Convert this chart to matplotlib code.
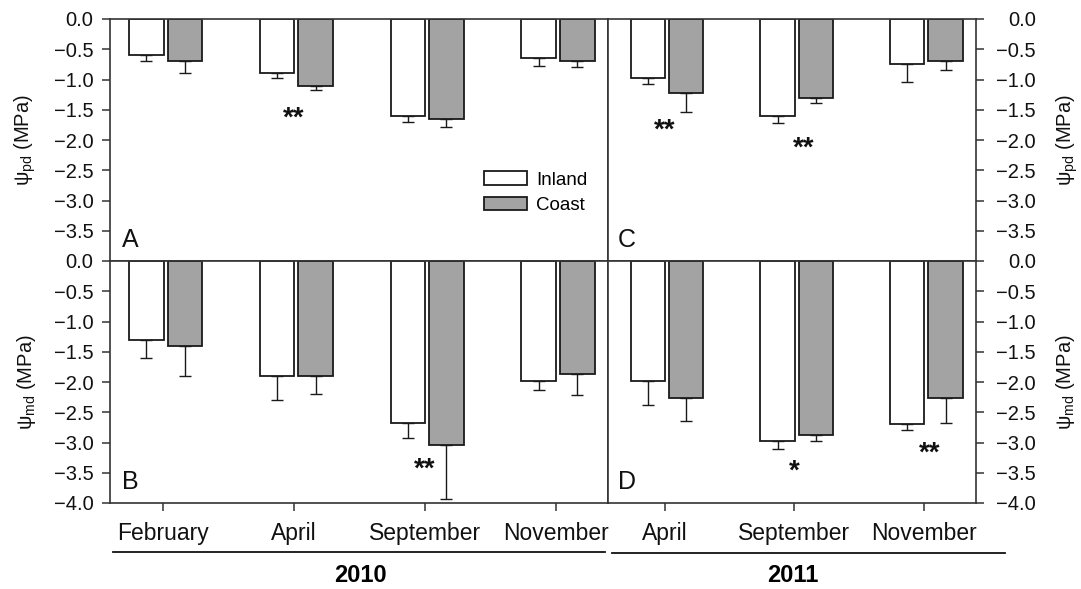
import matplotlib
matplotlib.use("Agg")
import matplotlib.pyplot as plt
import numpy as np
from matplotlib.lines import Line2D
from matplotlib.ticker import FuncFormatter

plt.rcParams['font.family'] = ['Liberation Sans', 'DejaVu Sans']
plt.rcParams['mathtext.fontset'] = 'custom'
plt.rcParams['mathtext.rm'] = 'Liberation Sans'
plt.rcParams['mathtext.it'] = 'Liberation Sans:italic'

months_2010 = ["February", "April", "September", "November"]
months_2011 = ["April", "September", "November"]

# predawn water potential (MPa), 2010 / 2011
pd_inland_2010 = [-0.60, -0.90, -1.60, -0.65]
pd_inland_2010_err = [0.09, 0.07, 0.10, 0.13]
pd_coast_2010 = [-0.70, -1.10, -1.65, -0.69]
pd_coast_2010_err = [0.20, 0.07, 0.13, 0.11]

pd_inland_2011 = [-0.97, -1.60, -0.75]
pd_inland_2011_err = [0.10, 0.12, 0.29]
pd_coast_2011 = [-1.22, -1.30, -0.69]
pd_coast_2011_err = [0.32, 0.09, 0.15]

# midday water potential (MPa)
md_inland_2010 = [-1.30, -1.90, -2.68, -1.99]
md_inland_2010_err = [0.30, 0.39, 0.24, 0.15]
md_coast_2010 = [-1.40, -1.90, -3.04, -1.87]
md_coast_2010_err = [0.50, 0.30, 0.89, 0.35]

md_inland_2011 = [-1.98, -2.98, -2.69]
md_inland_2011_err = [0.40, 0.13, 0.10]
md_coast_2011 = [-2.27, -2.87, -2.27]
md_coast_2011_err = [0.37, 0.11, 0.40]

# significance marks: (month index, y level, label)
stars_a = [(1, -1.55, "**")]
stars_b = [(2, -3.36, "**")]
stars_c = [(0, -1.75, "**"), (1.07, -2.05, "**")]
stars_d = [(1, -3.39, "*"), (2.04, -3.09, "**")]

W, H = 1081, 589
fig = plt.figure(figsize=(W / 100, H / 100), dpi=100)

def px_axes(x0, y0, x1, y1):
    return fig.add_axes([x0 / W, 1 - y1 / H, (x1 - x0) / W, (y1 - y0) / H])

ax_a = px_axes(110, 19, 608, 261)
ax_b = px_axes(110, 261, 608, 503)
ax_c = px_axes(608, 19, 976, 261)
ax_d = px_axes(608, 261, 976, 503)

spine_col = '#333333'
coast_col = '#a3a3a3'
bw = 0.265
off_in, off_co = -0.13, 0.165

minus_fmt = FuncFormatter(lambda v, pos: ('%.1f' % v).replace('-', '\u2212') if abs(v) > 1e-9 else '0.0')


def draw_panel(ax, inland, inland_err, coast, coast_err, stars, letter, lx):
    x = np.arange(len(inland))
    ax.bar(x + off_in, inland, width=bw, color='white', edgecolor='#1a1a1a',
           linewidth=1.3, label='Inland', zorder=2)
    ax.bar(x + off_co, coast, width=bw, color=coast_col, edgecolor='#1a1a1a',
           linewidth=1.3, label='Coast', zorder=2)
    zeros = np.zeros(len(inland))
    ax.errorbar(x + off_in, inland, yerr=[inland_err, zeros], fmt='none',
                ecolor='#1a1a1a', elinewidth=1.0, capsize=4.5, capthick=1.0, zorder=1)
    ax.errorbar(x + off_co, coast, yerr=[coast_err, zeros], fmt='none',
                ecolor='#1a1a1a', elinewidth=1.0, capsize=4.5, capthick=1.0, zorder=1)
    for xi, yi, s in stars:
        ax.text(xi, yi - 0.21, s, ha='center', va='baseline', fontsize=20,
                fontweight='bold', color='#111111')
    ax.text(lx, 0.037, letter, transform=ax.transAxes, fontsize=18,
            ha='left', va='bottom', color='#111111')
    ax.set_ylim(-4.0, 0.0)
    for sp in ax.spines.values():
        sp.set_color(spine_col)
        sp.set_linewidth(1.2)
    ax.tick_params(axis='both', colors=spine_col, labelcolor='#111111',
                   labelsize=14.5, length=6, width=1.1)
    ax.tick_params(axis='y', pad=6)


draw_panel(ax_a, pd_inland_2010, pd_inland_2010_err, pd_coast_2010, pd_coast_2010_err, stars_a, 'A', 0.024)
draw_panel(ax_b, md_inland_2010, md_inland_2010_err, md_coast_2010, md_coast_2010_err, stars_b, 'B', 0.024)
draw_panel(ax_c, pd_inland_2011, pd_inland_2011_err, pd_coast_2011, pd_coast_2011_err, stars_c, 'C', 0.027)
draw_panel(ax_d, md_inland_2011, md_inland_2011_err, md_coast_2011, md_coast_2011_err, stars_d, 'D', 0.027)

for ax in (ax_a, ax_b):
    ax.set_xlim(-0.408, 3.40)
for ax in (ax_c, ax_d):
    ax.set_xlim(-0.438, 2.40)

top_ticks = np.arange(0, -3.51, -0.5)
bot_ticks = np.arange(0, -4.01, -0.5)
for ax in (ax_a, ax_c):
    ax.set_yticks(top_ticks)
    ax.set_xticks([])
for ax in (ax_b, ax_d):
    ax.set_yticks(bot_ticks)
for ax in (ax_a, ax_b, ax_c, ax_d):
    ax.yaxis.set_major_formatter(minus_fmt)

ax_b.set_xticks(np.arange(len(months_2010)))
ax_b.set_xticklabels(months_2010, fontsize=16.5)
ax_d.set_xticks(np.arange(len(months_2011)))
ax_d.set_xticklabels(months_2011, fontsize=16.5)
for ax in (ax_b, ax_d):
    ax.tick_params(axis='x', pad=8)

# right-hand panels: labels on the right, right-aligned like the original
for ax in (ax_c, ax_d):
    ax.yaxis.tick_right()
    ax.yaxis.set_label_position('right')
    ax.tick_params(axis='y', pad=37)
    plt.setp(ax.get_yticklabels(), ha='right')

pd_label = '\u03c8$_{\\rm pd}$ (MPa)'
md_label = '\u03c8$_{\\rm md}$ (MPa)'
ax_a.set_ylabel(pd_label, fontsize=14.5, color='#111111')
ax_b.set_ylabel(md_label, fontsize=14.5, color='#111111')
ax_c.set_ylabel(pd_label, fontsize=14.5, color='#111111', rotation=90)
ax_d.set_ylabel(md_label, fontsize=14.5, color='#111111', rotation=90)
ax_a.yaxis.set_label_coords(-0.145, 0.5)
ax_b.yaxis.set_label_coords(-0.145, 0.5)
ax_c.yaxis.set_label_coords(1.213, 0.5)
ax_d.yaxis.set_label_coords(1.213, 0.5)

ax_a.legend(loc='upper left', bbox_to_anchor=(0.75, 0.37), frameon=False,
            fontsize=13.5, handlelength=2.3, handleheight=0.7, handletextpad=0.5,
            labelspacing=0.45, borderaxespad=0, borderpad=0)

# year rules and labels below the month names
fig.add_artist(Line2D([113 / W, 605 / W], [1 - 552 / H, 1 - 552 / H], color='#111111', lw=1.3))
fig.add_artist(Line2D([612 / W, 1005 / W], [1 - 553 / H, 1 - 553 / H], color='#111111', lw=1.3))
fig.text(360 / W, 1 - 576 / H, "2010", ha='center', va='center', fontsize=17, fontweight='bold')
fig.text(793 / W, 1 - 576 / H, "2011", ha='center', va='center', fontsize=17, fontweight='bold')

fig.savefig('out.png', dpi=100)
